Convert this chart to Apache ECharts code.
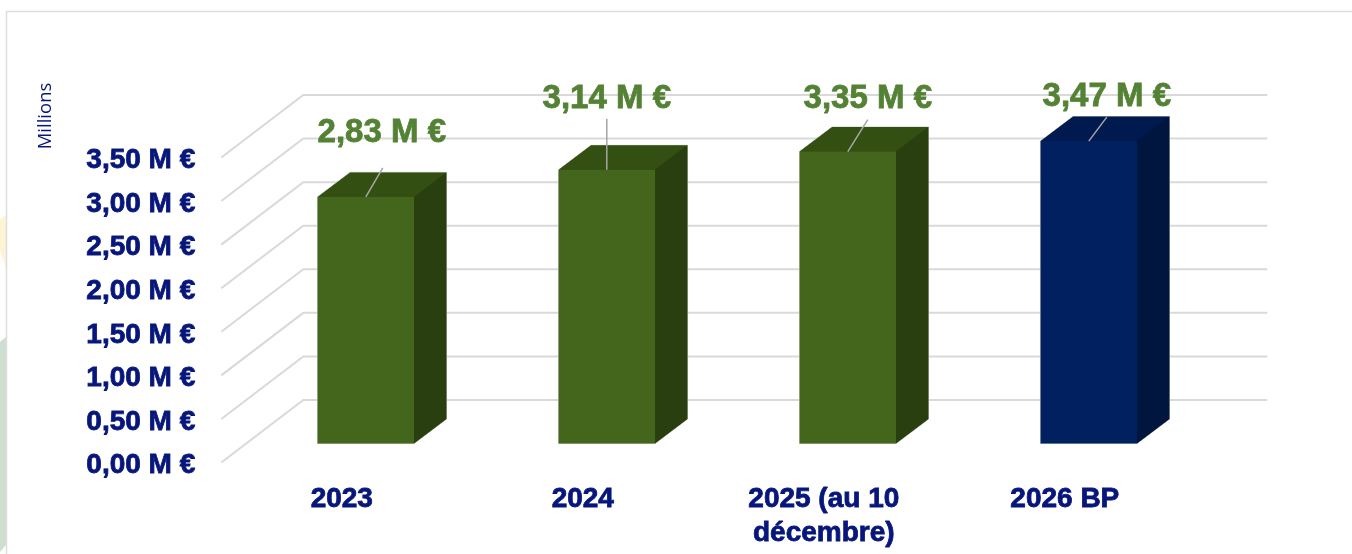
<!DOCTYPE html>
<html>
<head>
<meta charset="utf-8">
<title>Budget</title>
<style>
  html, body { margin: 0; padding: 0; background: #fff; }
  #chart { width: 1352px; height: 554px; }
</style>
<script src="https://cdn.jsdelivr.net/npm/echarts@6/dist/echarts.min.js"></script>
</head>
<body>
<div id="chart"></div>
<script>
// data
var categories = ["2023", "2024", "2025 (au 10\ndécembre)", "2026 BP"];
var values = [2.83, 3.14, 3.35, 3.47];
var yTicks = [0, 0.5, 1, 1.5, 2, 2.5, 3, 3.5];

// bar colours: front, top, side
var greenBar = ["#44661C", "#335012", "#2A3F10"];
var navyBar = ["#002060", "#001A4F", "#00163F"];
var barColors = [greenBar, greenBar, greenBar, navyBar];

// fake 3d layout
var wallDx = 82, wallDy = -62.5; // front plane -> back wall
var barDx = 24, barDy = -19; // front plane -> bar front face
var sideDx = 32.5, sideDy = -24.5; // bar depth
// where each value label was dragged to, from top of bar
var labelPos = [[16, -64], [0, -71], [20, -53], [18, -44]];
var leaderEnd = [[17, -29], [0, -51], [20, -32], [18, -24]];

var navy = "#07167A";
var labelGreen = "#548235";

function money(v) {
  return v.toFixed(2).replace(".", ",") + " M €";
}

var chart = echarts.init(document.getElementById("chart"), null, { renderer: "canvas" });

chart.setOption({
  animation: false,
  backgroundColor: "#fff",
  grid: { left: 221.3, width: 964, top: 157.5, height: 305 },
  xAxis: {
    type: "category",
    data: categories,
    axisLine: { show: false },
    axisTick: { show: false },
    splitLine: { show: false },
    axisLabel: {
      interval: 0,
      margin: 20,
      color: navy,
      fontFamily: "Liberation Sans",
      fontWeight: "bold",
      fontSize: 28,
      lineHeight: 34,
      textBorderColor: navy,
      textBorderWidth: 0.8,
    },
  },
  yAxis: {
    type: "value",
    min: 0,
    max: 3.5,
    interval: 0.5,
    axisLine: { show: false },
    axisTick: { show: false },
    splitLine: { show: false },
    axisLabel: {
      margin: 26,
      color: navy,
      fontFamily: "Liberation Sans",
      fontWeight: "bold",
      fontSize: 28,
      // labels sit a bit under the tick in the original
      verticalAlign: "top",
      lineHeight: 6,
      textBorderColor: navy,
      textBorderWidth: 0.8,
      formatter: money,
    },
  },
  graphic: [
    // bits of the slide background peeking out on the left
    { type: "polygon", silent: true, z: 0, shape: { points: [[0, 219], [6, 215], [6, 268], [0, 250]] }, style: { fill: "#FFF3D6" } },
    { type: "polygon", silent: true, z: 0, shape: { points: [[0, 342], [6, 337], [6, 545], [0, 552]] }, style: { fill: "#CDDFD0" } },
    // picture frame
    { type: "polyline", silent: true, z: 1, shape: { points: [[6.5, 554], [6.5, 11.5], [1352, 11.5]] }, style: { stroke: "#DDDDDD", lineWidth: 1.5, fill: null } },
    {
      type: "text",
      silent: true,
      z: 5,
      x: 45.5,
      y: 116,
      rotation: Math.PI / 2,
      style: {
        text: "Millions",
        fill: navy,
        font: "18.5px 'Open Sans'",
        textAlign: "center",
        textVerticalAlign: "middle",
      },
    },
  ],
  series: [
    {
      // floor diagonal + back wall line for each tick
      type: "custom",
      z: 2,
      silent: true,
      data: yTicks.map(function (v) { return [0, v]; }),
      encode: { x: 0, y: 1 },
      renderItem: function (params, api) {
        var y = api.coord([0, api.value(1)])[1];
        var x0 = params.coordSys.x;
        var x1 = x0 + params.coordSys.width;
        return {
          type: "polyline",
          shape: { points: [[x0, y], [x0 + wallDx, y + wallDy], [x1 + wallDx, y + wallDy]] },
          style: { stroke: "#D9D9D9", lineWidth: 2, fill: null },
        };
      },
    },
    {
      type: "custom",
      z: 3,
      silent: true,
      data: values.map(function (v, i) { return [i, v]; }),
      encode: { x: 0, y: 1 },
      renderItem: function (params, api) {
        var i = params.dataIndex;
        var val = api.value(1);
        var top = api.coord([i, val]);
        var base = api.coord([i, 0]);
        var w = api.size([1, 0])[0] * 0.4;
        var cx = top[0] + barDx;
        var xl = cx - w / 2, xr = cx + w / 2;
        var yt = top[1] + barDy, yb = base[1] + barDy;
        var c = barColors[i];
        return {
          type: "group",
          children: [
            {
              // thin pale outline round the whole block
              type: "polygon",
              shape: { points: [[xl, yb], [xl, yt], [xl + sideDx, yt + sideDy], [xr + sideDx, yt + sideDy], [xr + sideDx, yb + sideDy], [xr, yb]] },
              style: { fill: c[2], stroke: "#C4C8BC", lineWidth: 1 },
            },
            {
              type: "polygon",
              shape: { points: [[xl, yt], [xl + sideDx, yt + sideDy], [xr + sideDx, yt + sideDy], [xr, yt]] },
              style: { fill: c[1] },
            },
            {
              type: "polygon",
              shape: { points: [[xr, yt], [xr + sideDx, yt + sideDy], [xr + sideDx, yb + sideDy], [xr, yb]] },
              style: { fill: c[2] },
            },
            {
              type: "rect",
              shape: { x: xl, y: yt, width: w, height: yb - yt },
              style: { fill: c[0] },
            },
            {
              type: "line",
              shape: { x1: cx, y1: yt, x2: cx + leaderEnd[i][0], y2: yt + leaderEnd[i][1] },
              style: { stroke: "#A6A6A6", lineWidth: 1.5 },
            },
            {
              type: "text",
              style: {
                x: cx + labelPos[i][0],
                y: yt + labelPos[i][1],
                text: money(val),
                fill: labelGreen,
                stroke: labelGreen,
                lineWidth: 0.8,
                font: "bold 33px 'Liberation Sans'",
                textAlign: "center",
                textVerticalAlign: "middle",
              },
            },
          ],
        };
      },
    },
  ],
});
</script>
</body>
</html>
